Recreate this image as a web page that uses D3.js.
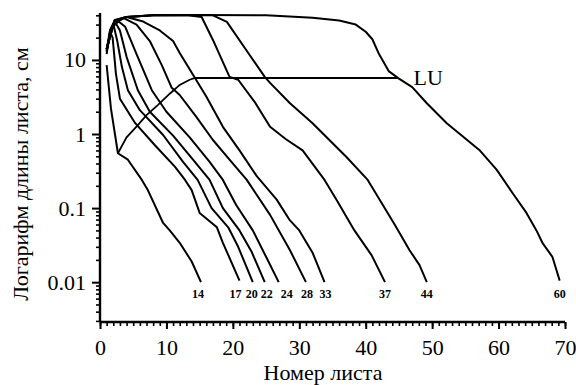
<!DOCTYPE html>
<html>
<head>
<meta charset="utf-8">
<script src="https://cdn.jsdelivr.net/npm/d3@7"></script>
<style>
  body { margin: 0; background: #fff; }
  svg { font-family: "Liberation Serif", "Times New Roman", serif; }
</style>
</head>
<body>
<svg id="chart" width="576" height="385"></svg>
<script>
// leaf length (cm) by leaf number, one array per stage (number of leaves)
const stage14 = [[1,8.5],[1.65,2.2],[2.7,0.55],[4.2,0.45],[6.3,0.24],[7.2,0.175],[9.5,0.063],[10.5,0.05],[12,0.034],[13.8,0.019],[15.2,0.01]];
const stage17 = [[1,12],[1.5,24],[1.9,20],[2.4,6.5],[3,3],[5.3,1.4],[8.3,0.7],[11.3,0.36],[12.8,0.24],[13.8,0.175],[15,0.086],[17.6,0.055],[18.5,0.034],[21,0.0105]];
const stage20 = [[1,13],[1.6,26],[2.1,28],[2.6,18],[3.3,8],[4.2,3.9],[6,2.1],[9.5,0.97],[12.5,0.42],[14.7,0.24],[16.8,0.1],[19.3,0.055],[20.8,0.03],[23,0.01]];
const stage22 = [[1,13],[1.7,27],[2.4,31],[3,25],[4,11],[5.7,3.9],[7.5,2.0],[11,0.95],[14,0.45],[16.5,0.24],[18.5,0.1],[21,0.05],[22.8,0.026],[24.8,0.01]];
const stage24 = [[1,14],[1.8,28],[2.8,33],[3.8,28],[5.5,12],[7.8,3.9],[10,2],[13.5,0.9],[16.5,0.42],[18.5,0.24],[20.5,0.11],[23,0.05],[25,0.022],[26.9,0.01]];
const stage28 = [[1,14],[2,30],[3.5,37],[5.5,30],[7.5,18],[9.3,8.5],[10.8,4.2],[12,3.36],[14.5,1.7],[17,0.83],[19.5,0.45],[22.1,0.24],[25.6,0.081],[28.6,0.027],[31,0.01]];
const stage33 = [[1,14],[2,31],[4,38],[6.5,33],[9,25],[11,18],[12,12.4],[14.3,5.7],[16,3.2],[18.5,1.25],[21,0.6],[23.6,0.27],[26.6,0.13],[28.5,0.07],[30,0.05],[32,0.025],[33.8,0.01]];
const stage37 = [[1,14],[2.2,34],[4,38],[8,40],[13,40.5],[15.3,38],[17,18.6],[19.5,5.9],[20.8,5.4],[23.3,2.7],[25.6,1.25],[28,0.85],[30.5,0.6],[33.8,0.24],[35.6,0.13],[38.3,0.05],[40.9,0.023],[42.9,0.01]];
const stage44 = [[1,14],[2.2,34],[4,38],[8,40],[15,40.5],[17,40],[19.1,32.6],[21.8,14.5],[24.8,5.9],[25.6,4.9],[28.6,2.6],[32,1.4],[37.1,0.49],[40.3,0.24],[42.1,0.13],[44.4,0.059],[46.6,0.027],[48.1,0.017],[49.2,0.01]];
const stage60 = [[1,13.6],[1.5,25],[2.25,34.6],[4,38],[8,40],[15,40.5],[25,40],[32,37],[36,34],[38.5,30],[40,24],[41,19],[42,12],[43.5,7],[45,5.6],[47,4.3],[49.2,2.6],[52.2,1.4],[57.1,0.61],[59.7,0.33],[62.1,0.16],[64.2,0.086],[65.7,0.05],[66.6,0.034],[68.1,0.022],[69.2,0.0105]];

const curves = [stage14, stage17, stage20, stage22, stage24, stage28, stage33, stage37, stage44, stage60];
const stageLabels = ["14", "17", "20", "22", "24", "28", "33", "37", "44", "60"];

// LU line
const luLine = [[2.7,0.55],[4,0.9],[5.7,1.32],[7,1.8],[8.7,2.45],[10.5,3.5],[12,4.6],[13.5,5.4],[14.3,5.7],[44.8,5.7]];

const xTicks = [0, 10, 20, 30, 40, 50, 60, 70];
const yTicks = [0.01, 0.1, 1, 10];
const yTickLabels = ["0.01", "0.1", "1", "10"];

const margin = { top: 13, left: 100 };
const width = 465, height = 309;

const svg = d3.select('#chart');
const g = svg.append('g').attr('transform', `translate(${margin.left},${margin.top})`);

const x = d3.scaleLinear().domain([0, 70]).range([0, width]);
const y = d3.scaleLog().domain([0.0029, 43]).range([height, 0]);

// minor log ticks on y
const yMinor = [];
for (let e = -3; e <= 1; e++) {
  for (let k = 2; k <= 9; k++) {
    const v = k * Math.pow(10, e);
    if (v >= 0.0029 && v <= 43) yMinor.push(v);
  }
}

g.append('g')
  .call(d3.axisLeft(y).tickValues(yMinor).tickSize(4).tickFormat(''))
  .call(a => a.select('.domain').remove())
  .selectAll('line').attr('stroke', '#000').attr('stroke-width', 1.6);

g.append('g')
  .call(d3.axisLeft(y).tickValues(yTicks).tickSize(8).tickPadding(6)
    .tickFormat((d, i) => yTickLabels[i]))
  .call(a => a.select('.domain').attr('stroke-width', 2.4).attr('d', `M0,${height}V0`))
  .call(a => a.selectAll('line').attr('stroke-width', 2))
  .selectAll('text').attr('font-size', 22).attr('font-family', '"Liberation Serif", serif');

// x axis
g.append('g')
  .attr('transform', `translate(0,${height})`)
  .call(d3.axisBottom(x).ticks(70).tickSize(4).tickFormat(''))
  .call(a => a.select('.domain').remove())
  .selectAll('line').attr('stroke', '#000').attr('stroke-width', 1.6);

g.append('g')
  .attr('transform', `translate(0,${height})`)
  .call(d3.axisBottom(x).tickValues(xTicks).tickSize(7).tickPadding(10))
  .call(a => a.select('.domain').attr('stroke-width', 2.4).attr('d', `M0,0H${width}`))
  .call(a => a.selectAll('line').attr('stroke-width', 2))
  .selectAll('text').attr('font-size', 22).attr('font-family', '"Liberation Serif", serif');

// curves
const line = d3.line().x(d => x(d[0])).y(d => y(d[1]));

g.selectAll('path.curve')
  .data(curves)
  .enter()
  .append('path')
  .attr('class', 'curve')
  .attr('d', line)
  .attr('fill', 'none')
  .attr('stroke', '#000')
  .attr('stroke-width', 2)
  .attr('stroke-linejoin', 'round');

g.append('path')
  .datum(luLine)
  .attr('d', line)
  .attr('fill', 'none')
  .attr('stroke', '#000')
  .attr('stroke-width', 1.8);

// stage labels below each curve end (small nudges to keep them apart)
const labelNudge = [-3, -4, -1, 2, 8, 1, 1, 0, 0, 0];
g.selectAll('text.stage')
  .data(curves)
  .enter()
  .append('text')
  .attr('class', 'stage')
  .attr('x', (d, i) => x(d[d.length - 1][0]) + labelNudge[i])
  .attr('y', y(0.01) + 16)
  .attr('text-anchor', 'middle')
  .attr('font-size', 12)
  .attr('font-weight', 'bold')
  .text((d, i) => stageLabels[i]);

g.append('text')
  .attr('x', x(44.8) + 16)
  .attr('y', y(5.7) + 7)
  .attr('font-size', 22)
  .text('LU');

// axis titles
svg.append('text')
  .attr('x', 323)
  .attr('y', 380)
  .attr('text-anchor', 'middle')
  .attr('font-size', 22)
  .text('Номер листа');

svg.append('text')
  .attr('transform', 'translate(28,174) rotate(-90)')
  .attr('text-anchor', 'middle')
  .attr('font-size', 22)
  .text('Логарифм длины листа, см');
</script>
</body>
</html>
